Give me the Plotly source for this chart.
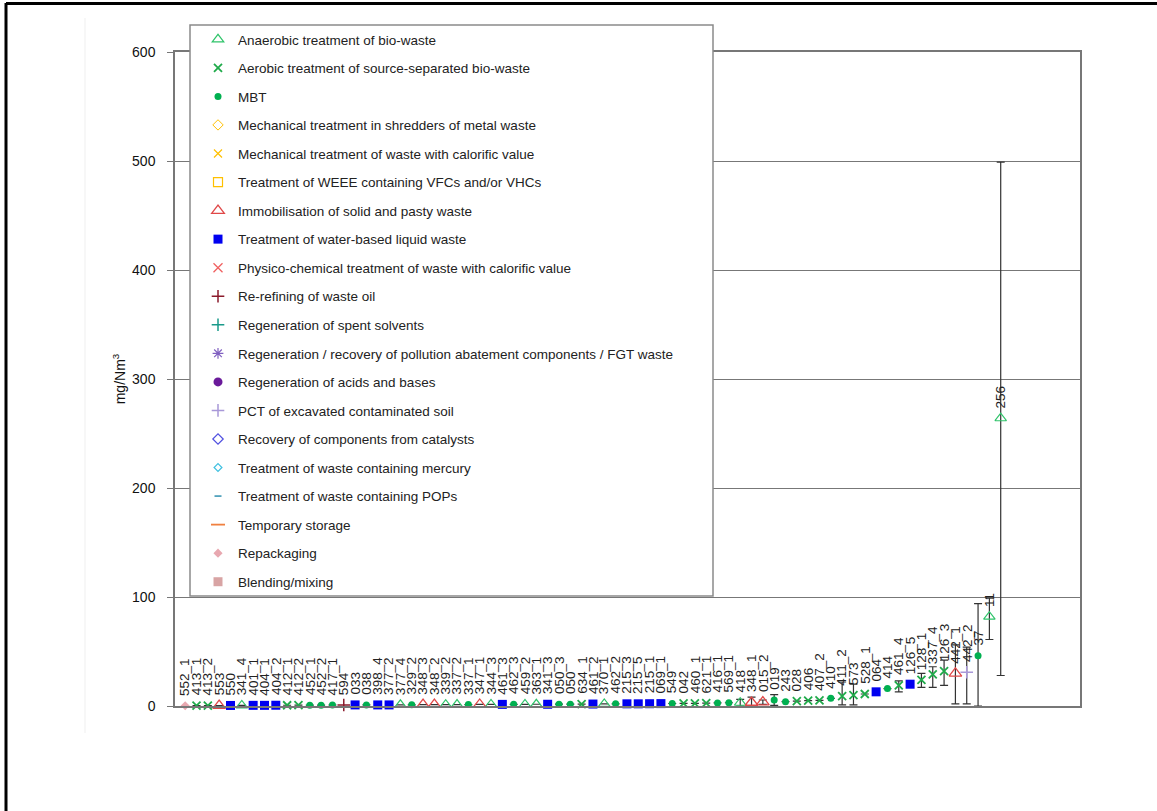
import plotly.graph_objects as go

# ---------------- data ----------------
labels = ["552_1", "413_1", "413_2", "553", "550", "341_4", "401_1", "404_1", "404_2", "412_1",
          "412_2", "452_1", "452_2", "417_1", "594", "033", "038", "398_4", "377_2", "377_4",
          "329_2", "348_3", "348_2", "339_2", "337_2", "337_1", "347_1", "344_3", "461_3", "462_3",
          "459_2", "363_1", "341_3", "050_3", "050", "634_1", "461_2", "370_1", "462_2", "215_3",
          "215_5", "215_1", "069_1", "549", "042", "460_1", "621_1", "416_1", "569_1", "418",
          "348_1", "015_2", "019", "243", "028", "406", "407_2", "410", "411_2", "573",
          "528_1", "064", "414", "461_4", "126_5", "128_1", "337_4", "126_3",
          "442_1", "442_2", "37", "11", "256"]

values = [0.2, 0.3, 0.3, 0.4, 0.5, 0.5, 0.6, 0.6, 0.7, 0.7,
          0.8, 0.8, 0.8, 0.9, 0.9, 1.0, 1.0, 1.0, 1.0, 1.1,
          1.1, 1.2, 1.2, 1.2, 1.3, 1.3, 1.4, 1.4, 1.5, 1.5,
          1.5, 1.6, 1.6, 1.7, 1.7, 1.8, 1.8, 1.9, 2.0, 2.0,
          2.0, 2.1, 2.2, 2.3, 2.4, 2.5, 2.6, 2.8, 3.0, 3.0,
          3.2, 3.5, 5.5, 4.0, 4.5, 5.0, 5.2, 7, 9, 10,
          11, 13, 16, 19, 20, 24, 29, 32, 30, 31,
          46, 82, 264]

A, X, M, I, B, R, P, K = ("Anaerobic treatment of bio-waste",
                          "Aerobic treatment of source-separated bio-waste",
                          "MBT",
                          "Immobilisation of solid and pasty waste",
                          "Treatment of water-based liquid waste",
                          "Re-refining of waste oil",
                          "PCT of excavated contaminated soil",
                          "Repackaging")
point_category = [K, X, X, I, B, A, B, B, B, X,
                  X, M, M, M, R, B, M, B, B, A,
                  M, I, I, A, A, M, I, A, B, M,
                  A, A, B, M, M, X, B, A, M, B,
                  B, B, B, M, X, X, X, M, M, A,
                  I, I, M, M, X, X, X, M, X, X,
                  X, B, M, X, B, X, X, X, I, P,
                  M, A, A]

err_plus = [None] * 49 + [3, 5, 2, 5, None, None, None, None, None, 13, 10,
                         None, None, None, 4, None, 6, 7, 10, 26, 23,
                         48, 17, 235]
err_minus = [None] * 49 + [3, 3, 2, 5, None, None, None, None, None, 8, 9,
                          None, None, None, 6, None, 7, 12, 13, 28, 29,
                          46, 21, 236]

legend_categories = [
    "Anaerobic treatment of bio-waste",
    "Aerobic treatment of source-separated bio-waste",
    "MBT",
    "Mechanical treatment in shredders of metal waste",
    "Mechanical treatment of waste with calorific value",
    "Treatment of WEEE containing VFCs and/or VHCs",
    "Immobilisation of solid and pasty waste",
    "Treatment of water-based liquid waste",
    "Physico-chemical treatment of waste with calorific value",
    "Re-refining of waste oil",
    "Regeneration of spent solvents",
    "Regeneration / recovery of pollution abatement components / FGT waste",
    "Regeneration of acids and bases",
    "PCT of excavated contaminated soil",
    "Recovery of components from catalysts",
    "Treatment of waste containing mercury",
    "Treatment of waste containing POPs",
    "Temporary storage",
    "Repackaging",
    "Blending/mixing",
]
y_ticks = [0, 100, 200, 300, 400, 500, 600]
y_title = "mg/Nm<sup>3</sup>"

# ---------------- styles ----------------
styles = {
    legend_categories[0]: dict(symbol="triangle-up-open", size=10, color="#2fc46a", line=dict(width=1.2, color="#2fc46a")),
    legend_categories[1]: dict(symbol="x-thin", size=8, color="#1faa4a", line=dict(width=1.8, color="#1faa4a")),
    legend_categories[2]: dict(symbol="circle", size=7, color="#00b050"),
    legend_categories[3]: dict(symbol="diamond-open", size=8, color="#ffc000", line=dict(width=1, color="#ffc000")),
    legend_categories[4]: dict(symbol="x-thin", size=8, color="#ffc000", line=dict(width=1.2, color="#ffc000")),
    legend_categories[5]: dict(symbol="square-open", size=9, color="#ffc000", line=dict(width=1.2, color="#ffc000")),
    legend_categories[6]: dict(symbol="triangle-up-open", size=11, color="#e04848", line=dict(width=1.3, color="#e04848")),
    legend_categories[7]: dict(symbol="square", size=9, color="#0000f0"),
    legend_categories[8]: dict(symbol="x-thin", size=9, color="#f06060", line=dict(width=1.3, color="#f06060")),
    legend_categories[9]: dict(symbol="cross-thin", size=9, color="#8b1a2b", line=dict(width=1.5, color="#8b1a2b")),
    legend_categories[10]: dict(symbol="cross-thin", size=9, color="#1a9a8a", line=dict(width=1.5, color="#1a9a8a")),
    legend_categories[11]: dict(symbol="asterisk", size=9, color="#8060c0", line=dict(width=1.2, color="#8060c0")),
    legend_categories[12]: dict(symbol="circle", size=9, color="#6a1a9a"),
    legend_categories[13]: dict(symbol="cross-thin", size=9, color="#a898d8", line=dict(width=1.5, color="#a898d8")),
    legend_categories[14]: dict(symbol="diamond-open", size=8, color="#5050e0", line=dict(width=1.2, color="#5050e0")),
    legend_categories[15]: dict(symbol="diamond-open", size=6, color="#40c0e0", line=dict(width=1.2, color="#40c0e0")),
    legend_categories[16]: dict(symbol="line-ew", size=5, color="#3090b0", line=dict(width=1.5, color="#3090b0")),
    legend_categories[17]: dict(symbol="line-ew", size=10, color="#f08040", line=dict(width=1.8, color="#f08040")),
    legend_categories[18]: dict(symbol="diamond", size=7, color="#e8a8b0"),
    legend_categories[19]: dict(symbol="square", size=9, color="#d8a4a4"),
}

# ---------------- geometry helpers (pixel -> paper) ----------------
W, H = 1157, 811
L, R, T, Bm = 175, 1080, 52, 706


def px(xp):
    return (xp - L) / (R - L)


def py(yp):
    return (Bm - yp) / (Bm - T)


fig = go.Figure()
for cat in legend_categories:
    idx = [i for i, c in enumerate(point_category) if c == cat]
    xs = idx if idx else [None]
    ys = [values[i] for i in idx] if idx else [None]
    ep = [err_plus[i] for i in idx] if idx else [None]
    em = [err_minus[i] for i in idx] if idx else [None]
    has_err = any(e is not None for e in ep)
    fig.add_trace(go.Scatter(
        x=xs, y=ys, mode="markers", name=cat, legendgroup=cat,
        marker=styles[cat],
        error_y=dict(type="data", array=ep, arrayminus=em, symmetric=False,
                     color="#333333", thickness=1.2, width=4, visible=has_err),
        cliponaxis=False,
    ))

for i, (lab, v) in enumerate(zip(labels, values)):
    fig.add_annotation(x=i, y=v, text=lab, textangle=-90, showarrow=False,
                       xanchor="center", yanchor="bottom", yshift=8,
                       font=dict(family="Arial, Liberation Sans", size=13.5, color="#222222"))

shapes = [
    # legend box
    dict(type="rect", xref="paper", yref="paper", x0=px(190), x1=px(713), y0=py(596), y1=py(25),
         fillcolor="white", line=dict(color="#8a8a8a", width=1.5), layer="above"),
    # outer frame (top and left)
    dict(type="line", xref="paper", yref="paper", x0=px(6), x1=px(1160), y0=py(3.5), y1=py(3.5),
         line=dict(color="black", width=3)),
    dict(type="line", xref="paper", yref="paper", x0=px(6), x1=px(6), y0=py(3), y1=py(815),
         line=dict(color="black", width=3)),
    # faint inner frame line
    dict(type="line", xref="paper", yref="paper", x0=px(85), x1=px(85), y0=py(18), y1=py(733),
         line=dict(color="#efefef", width=1)),
]

fig.update_layout(
    width=W, height=H,
    margin=dict(l=L, r=W - R, t=T, b=H - Bm, pad=0),
    paper_bgcolor="white", plot_bgcolor="white",
    font=dict(family="Arial, Liberation Sans", size=14, color="#111111"),
    shapes=shapes,
    showlegend=True,
    legend=dict(x=px(198), y=py(24), xanchor="left", yanchor="top",
                bgcolor="rgba(0,0,0,0)", borderwidth=0, maxheight=900,
                font=dict(family="Arial, Liberation Sans", size=13.5, color="#222222"),
                traceorder="grouped", tracegroupgap=8, itemwidth=30),
    xaxis=dict(range=[-0.9, 79], showgrid=False, zeroline=False, showticklabels=False,
               ticks="", showline=True, linecolor="#777777", linewidth=1.5, mirror=True),
    yaxis=dict(range=[0, 600], tickvals=y_ticks, showgrid=True, gridcolor="#777777", gridwidth=1.3,
               zeroline=False, showline=True, linecolor="#777777", linewidth=1.5, mirror=True,
               ticks="outside", ticklen=6, tickcolor="#777777", ticklabelstandoff=9,
               tickfont=dict(size=14, color="#111111"),
               title=dict(text=y_title, standoff=3, font=dict(size=14, color="#111111"))),
)

fig.write_html("out.html", config={"displayModeBar": False},
               post_script="document.body.style.margin='0';document.body.style.overflow='hidden';")
